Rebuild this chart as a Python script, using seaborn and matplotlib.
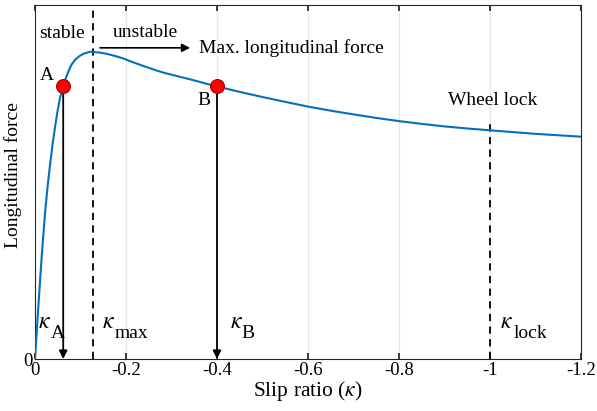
import matplotlib
matplotlib.use("Agg")
import matplotlib.pyplot as plt
import seaborn as sns
import pandas as pd

# Data
slip = [0.0, 0.0073, 0.0147, 0.022, 0.0275, 0.033, 0.0385, 0.044, 0.0495, 0.055, 0.0585,
        0.062, 0.067, 0.073, 0.080, 0.088, 0.097, 0.106, 0.121, 0.14, 0.158, 0.176, 0.194,
        0.212, 0.231, 0.249, 0.267, 0.285, 0.304, 0.322, 0.341, 0.37, 0.4, 0.45, 0.5,
        0.55, 0.6, 0.65, 0.7, 0.75, 0.8, 0.85, 0.9, 0.95, 1.0, 1.1, 1.2]
force = [0.0, 0.148, 0.289, 0.412, 0.485, 0.548, 0.605, 0.655, 0.700, 0.737, 0.756,
         0.772, 0.790, 0.811, 0.831, 0.845, 0.855, 0.862, 0.868, 0.866, 0.862, 0.856, 0.849,
         0.840, 0.831, 0.823, 0.815, 0.808, 0.802, 0.796, 0.790, 0.780, 0.770, 0.7545, 0.740,
         0.7263, 0.713, 0.7015, 0.691, 0.681, 0.672, 0.6642, 0.657, 0.6512, 0.646, 0.636, 0.628]
point_names = ["A", "B"]
point_slip = [0.062, 0.4]
point_force = [0.772, 0.770]
kappa_max = 0.128
kappa_lock = 1.0
xticks = [0, 0.2, 0.4, 0.6, 0.8, 1.0, 1.2]
xticklabels = ["0", "-0.2", "-0.4", "-0.6", "-0.8", "-1", "-1.2"]

sns.set_theme(style="white")
plt.rcParams["font.family"] = ["Liberation Serif", "DejaVu Serif"]
plt.rcParams["mathtext.fontset"] = "stix"
plt.rcParams["text.color"] = "black"
plt.rcParams["axes.labelcolor"] = "black"
plt.rcParams["xtick.color"] = "black"
plt.rcParams["ytick.color"] = "black"

fig, ax = plt.subplots(figsize=(5.97, 4.11), dpi=100)
fig.subplots_adjust(left=35/597, right=581/597, top=1-5/411, bottom=1-359/411)

df = pd.DataFrame({"slip": slip, "force": force})
sns.lineplot(data=df, x="slip", y="force", ax=ax, color="#0072BD", linewidth=1.5, zorder=3)

ax.set_xlim(0, 1.2)
ax.set_ylim(0, 1.0)
ax.set_xticks(xticks)
ax.set_xticklabels(xticklabels)
ax.set_yticks([0])
ax.set_yticklabels(["0"])
ax.tick_params(axis="both", labelsize=13.5, direction="in", length=4,
               top=True, bottom=True, left=False, pad=2)
ax.tick_params(axis="x", colors="black", color="#262626")
ax.tick_params(axis="y", pad=2)
ax.set_xlabel("Slip ratio ($\\kappa$)", fontsize=15.5, labelpad=0)
ax.set_ylabel("Longitudinal force", fontsize=14, labelpad=1)
ax.yaxis.set_label_coords(-0.024, 0.52)
for s in ax.spines.values():
    s.set_color("#262626")
    s.set_linewidth(0.8)
for xv in xticks[1:-1]:
    ax.axvline(xv, color="#e6e6e6", linewidth=0.8, zorder=0)

# dashed lines
ax.axvline(kappa_max, color="black", linestyle=(0, (4, 3)), linewidth=1.3, zorder=2)
ax.plot([kappa_lock, kappa_lock], [0, 0.665], color="black", linestyle=(0, (4, 3)), linewidth=1.3, zorder=2)

# arrows down from points
for xs, ys in zip(point_slip, point_force):
    ax.annotate("", xy=(xs, 0.0), xytext=(xs, ys),
                arrowprops=dict(arrowstyle="-|>", color="black", lw=1.3, mutation_scale=12,
                                shrinkA=0, shrinkB=0), zorder=4)
ax.plot(point_slip, point_force, "o", markersize=10, markerfacecolor="#ff0000",
        markeredgecolor="#b00000", markeredgewidth=0.8, zorder=5)

# horizontal arrow
ax.annotate("", xy=(0.341, 0.879), xytext=(0.143, 0.879),
            arrowprops=dict(arrowstyle="-|>", color="black", lw=1.2, mutation_scale=12,
                            shrinkA=0, shrinkB=0))
fs = 14
ax.text(0.36, 0.879, "Max. longitudinal force", fontsize=fs, va="center", ha="left")
ax.text(0.009, 0.92, "stable", fontsize=fs, va="center", ha="left")
ax.text(0.17, 0.923, "unstable", fontsize=fs, va="center", ha="left")
ax.text(0.042, 0.80, point_names[0], fontsize=fs, va="center", ha="right")
ax.text(0.385, 0.73, point_names[1], fontsize=fs, va="center", ha="right")
ax.text(1.007, 0.729, "Wheel lock", fontsize=fs, va="center", ha="center")

# kappa labels: symbol + subscript
kap_x = [0.0066, 0.147, 0.4286, 1.022]
sub_x = [0.035, 0.176, 0.453, 1.051]
subs = ["A", "max", "B", "lock"]
for kx, sx, sb in zip(kap_x, sub_x, subs):
    ax.text(kx, 0.0876, "$\\kappa$", fontsize=17, va="baseline", ha="left")
    ax.text(sx, 0.058, sb, fontsize=14, va="baseline", ha="left")

fig.savefig("out.png", dpi=100)
